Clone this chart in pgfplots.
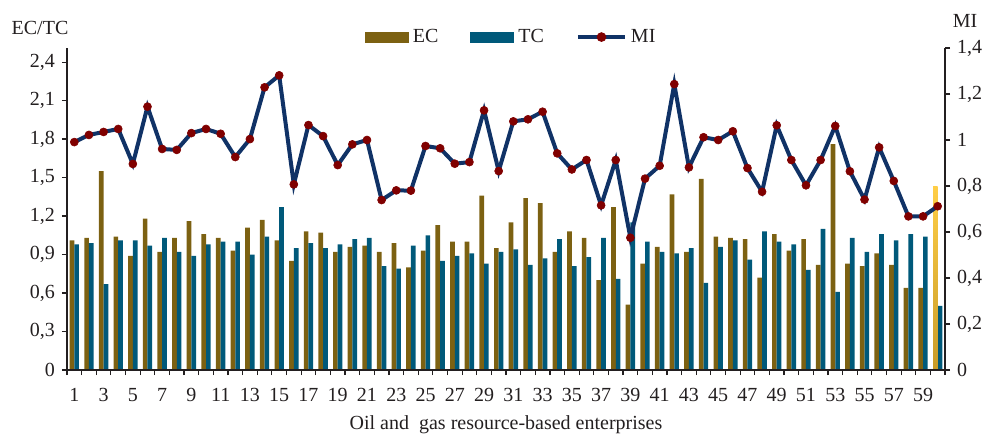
\documentclass[border=0pt]{standalone}
\usepackage{fontspec}
\setmainfont{Liberation Serif}
\usepackage{pgfplots}
\pgfplotsset{compat=1.18}
\definecolor{ecc}{RGB}{124,97,18}
\definecolor{tcc}{RGB}{0,89,122}
\definecolor{mil}{RGB}{16,50,102}
\definecolor{mired}{RGB}{128,0,0}
\definecolor{goldtop}{RGB}{255,206,70}
\definecolor{goldbot}{RGB}{200,155,40}
\definecolor{txt}{RGB}{35,31,32}

\pgfplotstableread{
x y
1 1.01
2 1.03
3 1.55
4 1.04
5 0.89
6 1.18
7 0.92
8 1.03
9 1.16
10 1.06
11 1.03
12 0.93
13 1.11
14 1.17
15 1.01
16 0.85
17 1.08
18 1.07
19 0.92
20 0.96
21 0.97
22 0.92
23 0.99
24 0.80
25 0.93
26 1.13
27 1.00
28 1.00
29 1.36
30 0.95
31 1.15
32 1.34
33 1.30
34 0.92
35 1.08
36 1.03
37 0.70
38 1.27
39 0.51
40 0.83
41 0.96
42 1.37
43 0.92
44 1.49
45 1.04
46 1.03
47 1.02
48 0.72
49 1.06
50 0.93
51 1.02
52 0.82
53 1.76
54 0.83
55 0.81
56 0.91
57 0.82
58 0.64
59 0.64
}\ectable

\pgfplotstableread{
x y
60 1.43
}\ecgold

\pgfplotstableread{
x y
1 0.98
2 0.99
3 0.67
4 1.01
5 1.01
6 0.97
7 1.03
8 0.92
9 0.89
10 0.98
11 1.00
12 1.00
13 0.90
14 1.04
15 1.27
16 0.95
17 0.99
18 0.95
19 0.98
20 1.02
21 1.03
22 0.81
23 0.79
24 0.97
25 1.05
26 0.85
27 0.89
28 0.91
29 0.83
30 0.92
31 0.94
32 0.82
33 0.87
34 1.02
35 0.81
36 0.88
37 1.03
38 0.71
39 1.15
40 1.00
41 0.92
42 0.91
43 0.95
44 0.68
45 0.96
46 1.01
47 0.86
48 1.08
49 1.00
50 0.98
51 0.78
52 1.10
53 0.61
54 1.03
55 0.92
56 1.06
57 1.01
58 1.06
59 1.04
60 0.50
}\tctable

\pgfplotstableread{
x y
1 0.991
2 1.022
3 1.035
4 1.048
5 0.896
6 1.145
7 0.961
8 0.957
9 1.030
10 1.048
11 1.027
12 0.926
13 1.004
14 1.229
15 1.281
16 0.807
17 1.065
18 1.017
19 0.891
20 0.981
21 1.000
22 0.739
23 0.781
24 0.780
25 0.974
26 0.964
27 0.897
28 0.904
29 1.129
30 0.865
31 1.081
32 1.090
33 1.123
34 0.942
35 0.872
36 0.913
37 0.716
38 0.913
39 0.575
40 0.832
41 0.888
42 1.243
43 0.881
44 1.012
45 1.000
46 1.038
47 0.878
48 0.775
49 1.064
50 0.913
51 0.803
52 0.913
53 1.061
54 0.864
55 0.741
56 0.968
57 0.822
58 0.668
59 0.668
60 0.712
}\mitable

\pgfplotsset{
  common/.style={
    scale only axis, width=439pt, height=161pt,
    xmin=0.5, xmax=60.5, ymin=0,
    tick align=outside, major tick length=2.5pt,
    axis line style={line width=0.6pt, color=txt},
    every tick/.style={line width=0.6pt, color=txt},
    tick label style={font=\normalsize, color=txt},
    /pgf/number format/use comma,
    /pgf/number format/fixed,
    /pgf/number format/precision=1,
    /pgf/number format/assume math mode=true,
    clip=false,
  }
}

\begin{document}
\begin{tikzpicture}
\useasboundingbox (-33.5pt,-33pt) rectangle (460.5pt,185pt);
\begin{axis}[
  common,
  ymax=2.51,
  axis x line*=bottom, axis y line*=left,
  xtick={1,3,...,59}, xtick style={draw=none},
  ytick={0,0.3,0.6,0.9,1.2,1.5,1.8,2.1,2.4},
  xticklabel style={yshift=-3pt},
  legend style={at={(0.507,1.034)}, anchor=center, draw=none, fill=none,
    legend columns=3, font=\normalsize, text=txt,
    /tikz/every even column/.append style={column sep=14pt}},
]
\addplot[ybar, bar width=0.32, bar shift=-0.16, fill=ecc, draw=none,
  legend image code/.code={\fill[ecc] (0pt,-2.75pt) rectangle (22pt,2.75pt);}]
  table[x=x,y=y] {\ectable};
\addlegendentry{EC}
\addplot[ybar, bar width=0.32, bar shift=0.16, fill=tcc, draw=none,
  legend image code/.code={\fill[tcc] (0pt,-2.75pt) rectangle (22pt,2.75pt);}]
  table[x=x,y=y] {\tctable};
\addlegendentry{TC}
\addlegendimage{legend image code/.code={
  \draw[mil, line width=2pt] (0pt,0pt) -- (23.5pt,0pt);
  \fill[mired] (11.75pt,0pt) circle (2.2pt);}}
\addlegendentry{MI}
\addplot[ybar, bar width=0.32, bar shift=-0.16, draw=none,
  shading=axis, top color=goldtop, bottom color=goldbot, forget plot]
  table[x=x,y=y] {\ecgold};
\node[text=txt] at (rel axis cs:0,1) [xshift=-13.5pt, yshift=10pt] {EC/TC};
\node[text=txt] at (rel axis cs:0.5,0) [yshift=-27.5pt] {Oil and\ \ gas resource-based enterprises};
\end{axis}
\begin{axis}[
  common,
  ymax=1.4,
  axis y line*=right, axis x line*=bottom,
  xtick={0.5,1.5,...,60.5}, xticklabels={},
  ytick={0,0.2,0.4,0.6,0.8,1,1.2,1.4},
]
\addplot[mil, line width=2pt, mark=*, mark size=2pt,
  mark options={fill=mired, draw=mired, line width=0.3pt}]
  table[x=x,y=y] {\mitable};
\node[text=txt] at (rel axis cs:1,1) [xshift=10pt, yshift=13.5pt] {MI};
\end{axis}
\end{tikzpicture}
\end{document}
